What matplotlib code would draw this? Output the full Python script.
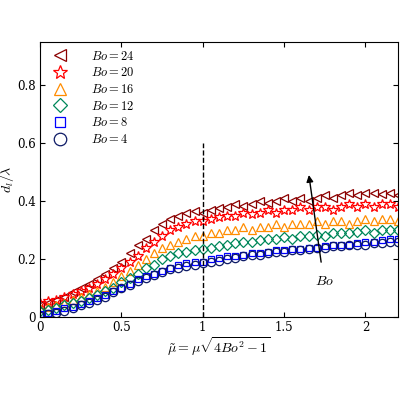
import matplotlib
matplotlib.use("Agg")
import matplotlib.pyplot as plt

plt.rcParams['mathtext.fontset'] = 'cm'
plt.rcParams['font.family'] = 'serif'
plt.rcParams['font.serif'] = ['DejaVu Serif']

x = [i * 0.05 for i in range(45)]
bo24 = [0.04,0.05,0.06,0.07,0.085,0.10,0.115,0.13,0.15,0.17,0.19,0.22,0.25,0.27,0.30,0.32,0.34,0.35,0.36,0.365,0.36,0.37,0.375,0.38,0.39,0.385,0.39,0.40,0.395,0.40,0.41,0.40,0.41,0.40,0.41,0.42,0.41,0.42,0.43,0.42,0.43,0.43,0.425,0.43,0.42]
bo20 = [0.05,0.055,0.06,0.07,0.08,0.09,0.10,0.115,0.13,0.15,0.17,0.19,0.21,0.24,0.26,0.28,0.30,0.31,0.32,0.33,0.33,0.34,0.345,0.35,0.35,0.36,0.355,0.36,0.37,0.36,0.37,0.37,0.38,0.37,0.38,0.38,0.37,0.38,0.39,0.38,0.39,0.38,0.39,0.39,0.38]
bo16 = [0.03,0.035,0.04,0.05,0.06,0.07,0.08,0.09,0.105,0.12,0.14,0.16,0.18,0.20,0.22,0.24,0.25,0.26,0.27,0.28,0.28,0.29,0.29,0.30,0.30,0.31,0.30,0.31,0.31,0.32,0.31,0.32,0.32,0.32,0.33,0.32,0.33,0.33,0.32,0.33,0.34,0.33,0.34,0.34,0.33]
bo12 = [0.02,0.025,0.03,0.04,0.05,0.055,0.065,0.075,0.09,0.10,0.12,0.135,0.15,0.17,0.18,0.20,0.21,0.22,0.225,0.23,0.235,0.24,0.245,0.25,0.255,0.26,0.26,0.265,0.27,0.27,0.275,0.27,0.28,0.28,0.285,0.28,0.29,0.29,0.29,0.295,0.30,0.29,0.30,0.30,0.30]
bo8 = [0.01,0.015,0.02,0.03,0.035,0.045,0.055,0.065,0.075,0.09,0.10,0.115,0.13,0.14,0.15,0.16,0.17,0.18,0.185,0.19,0.19,0.20,0.205,0.21,0.21,0.215,0.22,0.22,0.225,0.23,0.23,0.235,0.235,0.24,0.24,0.245,0.25,0.25,0.25,0.255,0.26,0.26,0.265,0.27,0.27]
bo4 = [0.005,0.01,0.015,0.02,0.03,0.04,0.05,0.06,0.07,0.085,0.10,0.11,0.125,0.135,0.145,0.155,0.165,0.17,0.175,0.18,0.185,0.19,0.195,0.20,0.205,0.21,0.215,0.215,0.22,0.225,0.225,0.23,0.23,0.235,0.24,0.24,0.245,0.245,0.25,0.25,0.25,0.255,0.255,0.26,0.26]

series = [(bo24, 'Bo = 24', '<', '#8b0000'),
          (bo20, 'Bo = 20', '*', '#ff0000'),
          (bo16, 'Bo = 16', '^', '#ff8c00'),
          (bo12, 'Bo = 12', 'D', '#00875a'),
          (bo8, 'Bo = 8', 's', '#0000ff'),
          (bo4, 'Bo = 4', 'o', '#0d1a66')]

fig = plt.figure(figsize=(4, 4), dpi=100)
ax = fig.add_axes([0.1, 0.2075, 0.895, 0.6875])
handles = []
for ys, lab, m, c in series:
    ms = {'<': 6, '*': 7, '^': 6, 'D': 5, 's': 5, 'o': 6}[m]
    h, = ax.plot(x, ys, linestyle='none', marker=m, mfc='none', mec=c, ms=ms, mew=0.9,
                 label='$' + lab.replace(' ', '') + '$')
    handles.append(h)
ax.plot([1, 1], [0, 0.6], 'k--', lw=1)
ax.annotate('', xy=(1.65, 0.50), xytext=(1.73, 0.18),
            arrowprops=dict(arrowstyle='-|>', color='k', lw=1))
ax.text(1.75, 0.11, '$Bo$', fontsize=10, ha='center')
ax.set_xlim(0, 2.2)
ax.set_ylim(0, 0.95)
ax.set_xticks([0, 0.5, 1, 1.5, 2])
ax.set_xticklabels(['0', '0.5', '1', '1.5', '2'])
ax.set_yticks([0, 0.2, 0.4, 0.6, 0.8])
ax.set_yticklabels(['0', '0.2', '0.4', '0.6', '0.8'])
ax.tick_params(direction='in', top=True, right=True, labelsize=8.5, pad=3)
ax.set_xlabel(r'$\tilde{\mu} = \mu\sqrt{4Bo^2-1}$', fontsize=10, labelpad=1)
ax.set_ylabel(r'$d_l/\lambda$', fontsize=10, labelpad=1)
ax.legend(loc='upper left', frameon=False, fontsize=9, handletextpad=1.5,
          labelspacing=0.3, borderaxespad=0.2, markerscale=1.5)
fig.savefig('out.png', dpi=100)
